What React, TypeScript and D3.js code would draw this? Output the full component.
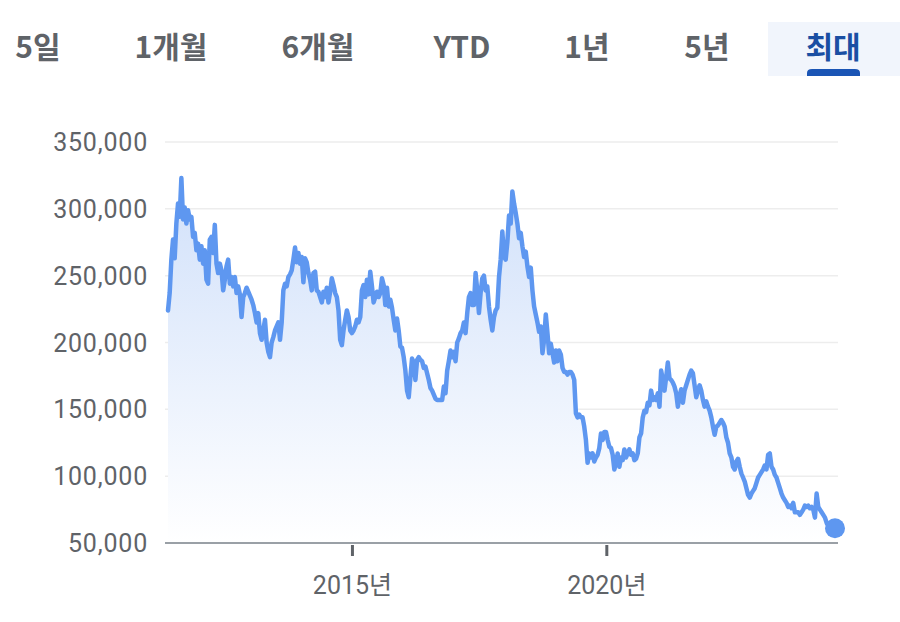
import React from 'react';
import * as d3 from 'd3';

// range tabs shown above the chart
const tabs = ['5일', '1개월', '6개월', 'YTD', '1년', '5년', '최대'];
const tabCenters = [38, 171, 318, 462, 587, 707, 833];
const selectedTab = 6;

// price samples (one every 12 days from 2011-05-18)
const startDate = new Date(2011, 4, 18);
const stepDays = 12;
const prices = [
  224, 237, 262, 277, 263, 289, 304, 294, 323, 292, 301, 289, 299, 292, 294, 279,
  282, 269, 274, 262, 272, 259, 269, 247, 244, 277, 279, 267, 288, 259, 252, 259,
  254, 239, 247, 257, 262, 244, 249, 242, 249, 237, 242, 236, 219, 234, 237, 241,
  238, 235, 232, 228, 222, 215, 222, 207, 202, 209, 217, 200, 193, 189, 200, 204,
  209, 212, 215, 202, 215, 239, 244, 242, 249, 251, 254, 262, 271, 260, 267, 259,
  264, 245, 263, 260, 252, 247, 239, 252, 253, 239, 238, 234, 230, 238, 234, 241,
  230, 238, 248, 243, 237, 234, 224, 202, 198, 209, 217, 224, 219, 209, 207, 209,
  212, 217, 215, 219, 239, 243, 234, 247, 236, 253, 242, 230, 234, 238, 234, 237,
  248, 243, 228, 241, 227, 232, 226, 217, 209, 218, 209, 197, 196, 189, 179, 164,
  159, 174, 188, 185, 172, 187, 189, 187, 186, 181, 182, 177, 172, 166, 164, 161,
  158, 157, 157, 157, 157, 167, 162, 179, 186, 194, 189, 193, 186, 200, 203, 207,
  209, 215, 207, 222, 234, 237, 228, 228, 252, 239, 222, 237, 248, 250, 239, 242,
  227, 217, 209, 219, 224, 226, 249, 262, 283, 264, 262, 275, 295, 289, 313, 304,
  297, 289, 278, 282, 272, 264, 268, 257, 249, 256, 239, 227, 221, 215, 208, 212,
  192, 202, 221, 207, 192, 199, 192, 185, 194, 186, 194, 191, 181, 178, 178, 176,
  178, 178, 176, 172, 147, 144, 146, 144, 144, 137, 127, 110, 117, 114, 117, 111,
  114, 116, 121, 132, 127, 133, 133, 127, 122, 121, 116, 105, 110, 117, 107, 114,
  112, 120, 114, 117, 120, 116, 117, 112, 113, 117, 129, 132, 144, 149, 148, 155,
  153, 164, 157, 159, 157, 162, 152, 179, 172, 164, 174, 185, 173, 172, 170, 167,
  162, 152, 160, 165, 155, 164, 168, 172, 176, 179, 177, 168, 159, 164, 168, 164,
  157, 152, 156, 152, 149, 144, 137, 131, 137, 138, 140, 142, 140, 137, 129, 125,
  117, 114, 107, 105, 111, 113, 107, 102, 99, 96, 91, 86, 84, 87, 89, 91,
  95, 99, 101, 103, 105, 108, 105, 116, 117, 107, 105, 101, 99, 95, 91, 87,
  84, 82, 80, 77, 78, 76, 80, 73, 73, 73, 71, 73, 75, 78, 77, 78,
  76, 77, 75, 69, 87, 77, 75, 73, 71, 69, 65, 63, 62, 61, 61, 61,
];

const yTicks = [50000, 100000, 150000, 200000, 250000, 300000, 350000];
const xTickYears = [2015, 2020];

const data = prices.map((p, i) => ({
  date: d3.timeDay.offset(startDate, i * stepDays),
  value: p * 1000,
}));

export default function App() {
  const width = 900;
  const height = 622;
  const left = 168;
  const right = 835;
  const top = 142;
  const bottom = 543;

  const x = d3
    .scaleTime()
    .domain([data[0].date, data[data.length - 1].date])
    .range([left, right]);
  const y = d3.scaleLinear().domain([50000, 350000]).range([bottom, top]);

  const line = d3
    .line<any>()
    .x((d) => x(d.date))
    .y((d) => y(d.value));
  const area = d3
    .area<any>()
    .x((d) => x(d.date))
    .y0(bottom)
    .y1((d) => y(d.value));

  const fmt = d3.format(',');
  const last = data[data.length - 1];
  const blue = '#5e97f0';
  const grey = '#5f6368';

  return (
    <svg
      width={width}
      height={height}
      style={{ position: 'absolute', left: 0, top: 0, background: '#fff' }}
      fontFamily="Roboto, 'Noto Sans CJK KR', sans-serif"
    >
      <defs>
        <linearGradient id="areaGrad" gradientUnits="userSpaceOnUse" x1="0" y1={top + 30} x2="0" y2={bottom}>
          <stop offset="0%" stopColor="#d0e0fa" />
          <stop offset="100%" stopColor="#ffffff" />
        </linearGradient>
      </defs>

      {/* tabs */}
      <rect x={768} y={22} width={132} height={54} fill="#f1f5fc" />
      <path d="M807,76 L807,73 Q807,69 812,69 L855,69 Q860,69 860,73 L860,76 Z" fill="#1a55b5" />
      {tabs.map((t, i) => (
        <text
          key={t}
          x={tabCenters[i]}
          y={58}
          textAnchor="middle"
          fontSize={30}
          fontWeight={700}
          fill={i === selectedTab ? '#1a4fa3' : grey}
          fontFamily="'Noto Sans CJK KR', Roboto, sans-serif"
        >
          {t}
        </text>
      ))}

      {/* grid */}
      {yTicks.map((t) => (
        <g key={t}>
          {t > 50000 && (
            <line x1={165} x2={838} y1={y(t)} y2={y(t)} stroke="#ededed" strokeWidth={1.5} />
          )}
          <text
            x={148}
            y={y(t)}
            dy="0.36em"
            textAnchor="end"
            fontSize={25}
            fill={grey}
            letterSpacing={0.8}
          >
            {fmt(t)}
          </text>
        </g>
      ))}

      {/* area + line */}
      <path d={area(data) || ''} fill="url(#areaGrad)" />
      <path
        d={line(data) || ''}
        fill="none"
        stroke={blue}
        strokeWidth={4.5}
        strokeLinejoin="round"
        strokeLinecap="round"
      />

      {/* x axis */}
      <line x1={165} x2={838} y1={bottom} y2={bottom} stroke="#9aa0a6" strokeWidth={2} />
      {xTickYears.map((yr) => {
        const tx = x(new Date(yr, 0, 1));
        return (
          <g key={yr}>
            <line x1={tx} x2={tx} y1={bottom + 2} y2={bottom + 13} stroke={grey} strokeWidth={3} />
            <text x={tx} y={594} textAnchor="middle" fontSize={25} fill={grey}>
              {yr}년
            </text>
          </g>
        );
      })}

      <circle cx={x(last.date)} cy={y(last.value)} r={10} fill={blue} />
    </svg>
  );
}
